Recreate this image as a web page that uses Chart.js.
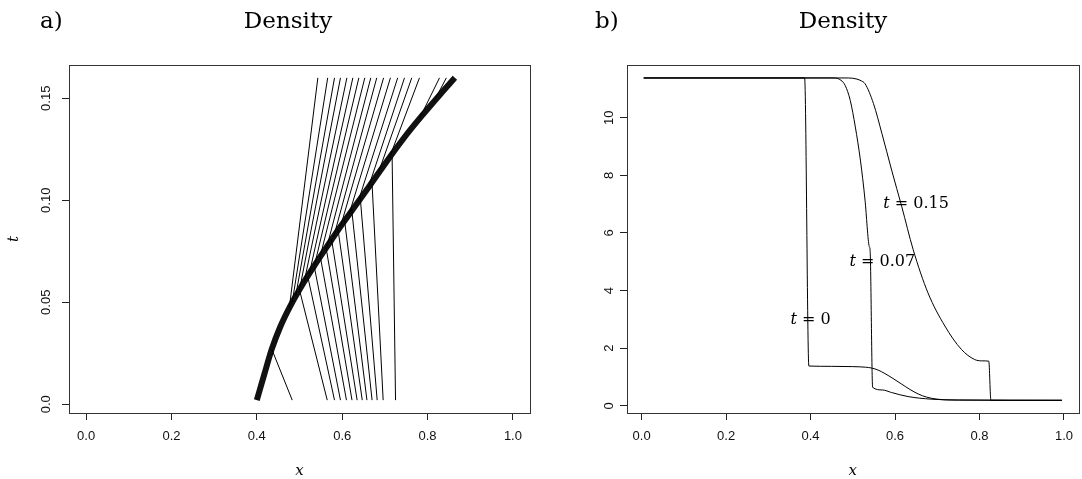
<!DOCTYPE html>
<html>
<head>
<meta charset="utf-8">
<script src="https://cdn.jsdelivr.net/npm/chart.js@4.4.0/dist/chart.umd.min.js"></script>
<style>
  html, body { margin: 0; padding: 0; background: #fff; }
  #wrap { position: relative; width: 1082px; height: 479px; overflow: hidden; }
  canvas { position: absolute; top: 0; }
  #left { left: 0; }
  #right { left: 541px; }
</style>
</head>
<body>
<div id="wrap">
  <canvas id="left" width="541" height="479"></canvas>
  <canvas id="right" width="541" height="479"></canvas>
</div>
<script>
// tick values and labels
const xTicks = [0, 0.2, 0.4, 0.6, 0.8, 1.0];
const xTickLabels = ['0.0', '0.2', '0.4', '0.6', '0.8', '1.0'];
const tTicks = [0, 0.05, 0.10, 0.15];
const tTickLabels = ['0.0', '0.05', '0.10', '0.15'];
const rhoTicks = [0, 2, 4, 6, 8, 10];
const rhoTickLabels = ['0', '2', '4', '6', '8', '10'];

// panel a) shock path
const shockX = [0.400, 0.418, 0.435, 0.455, 0.478, 0.505, 0.532, 0.562, 0.594, 0.630, 0.664, 0.711, 0.750, 0.789, 0.830, 0.864];
const shockT = [0.002, 0.015, 0.027, 0.038, 0.048, 0.058, 0.067, 0.0765, 0.0865, 0.097, 0.107, 0.121, 0.132, 0.142, 0.152, 0.160];

// characteristics running from t0 into the shock (right side)
const t0 = 0.002;
const lowerStartX = [0.483, 0.565, 0.582, 0.596, 0.610, 0.623, 0.635, 0.647, 0.658, 0.670, 0.682, 0.696, 0.725];
const lowerEndX = [0.435, 0.500, 0.520, 0.535, 0.549, 0.562, 0.575, 0.590, 0.605, 0.622, 0.642, 0.670, 0.717];
const lowerEndT = [0.027, 0.056, 0.062, 0.067, 0.072, 0.077, 0.081, 0.086, 0.091, 0.096, 0.102, 0.108, 0.121];

// characteristics leaving the shock up to tEnd (left side)
const tEnd = 0.160;
const upperStartX = [0.476, 0.483, 0.491, 0.500, 0.511, 0.523, 0.535, 0.548, 0.564, 0.580, 0.596, 0.616, 0.637, 0.661, 0.684, 0.711, 0.781, 0.814];
const upperStartT = [0.047, 0.050, 0.053, 0.056, 0.060, 0.064, 0.068, 0.072, 0.077, 0.082, 0.087, 0.093, 0.099, 0.106, 0.113, 0.121, 0.140, 0.148];
const upperEndX = [0.543, 0.566, 0.582, 0.596, 0.611, 0.625, 0.639, 0.653, 0.667, 0.681, 0.697, 0.713, 0.730, 0.746, 0.763, 0.781, 0.828, 0.844];

// panel b) density profiles
const rho0X = [0.005, 0.386, 0.396, 0.450, 0.500, 0.530, 0.545, 0.560, 0.576, 0.595, 0.616, 0.635, 0.655, 0.675, 0.700, 0.750, 0.995];
const rho0Y = [11.38, 11.38, 1.38, 1.37, 1.36, 1.34, 1.31, 1.24, 1.12, 0.95, 0.75, 0.57, 0.41, 0.30, 0.23, 0.20, 0.19];
const rho07X = [0.005, 0.455, 0.472, 0.482, 0.494, 0.506, 0.518, 0.529, 0.539, 0.541, 0.547, 0.570, 0.592, 0.631, 0.686, 0.750, 0.995];
const rho07Y = [11.38, 11.38, 11.30, 11.12, 10.60, 9.68, 8.53, 7.14, 5.53, 5.40, 0.64, 0.55, 0.46, 0.32, 0.23, 0.20, 0.19];
const rho15X = [0.005, 0.490, 0.510, 0.520, 0.529, 0.549, 0.569, 0.592, 0.616, 0.643, 0.678, 0.718, 0.757, 0.788, 0.805, 0.822, 0.827, 0.995];
const rho15Y = [11.38, 11.38, 11.34, 11.28, 11.18, 10.49, 9.45, 8.18, 6.91, 5.42, 3.92, 2.77, 1.96, 1.61, 1.56, 1.55, 0.19, 0.19];

const curveLabels = ['0', '0.07', '0.15'];
const curveLabelX = [0.40, 0.57, 0.65];
const curveLabelY = [3, 5, 7];

const pts = (xs, ys) => xs.map((x, i) => ({ x: x, y: ys[i] }));

function axis(min, max, vals, labels, vertical, size) {
  return {
    type: 'linear',
    min: min,
    max: max,
    afterBuildTicks: s => { s.ticks = vals.map(v => ({ value: v })); },
    afterFit: s => { if (vertical) s.width = size; else s.height = size; },
    grid: { drawOnChartArea: false, drawTicks: true, tickLength: 7, tickColor: '#222', tickWidth: 1 },
    border: { display: false },
    ticks: {
      callback: (v, i) => labels[i],
      color: '#111',
      font: { family: 'Liberation Sans', size: 13 },
      padding: vertical ? 3 : 9,
      autoSkip: false,
      minRotation: vertical ? 90 : 0,
      maxRotation: vertical ? 90 : 0,
      crossAlign: vertical ? 'center' : 'near'
    }
  };
}

function framePlugin(tag, tagX, titleX, yTitle) {
  return {
    id: 'frame',
    afterDraw(chart) {
      const ctx = chart.ctx;
      const a = chart.chartArea;
      ctx.save();
      ctx.strokeStyle = '#333';
      ctx.lineWidth = 1;
      ctx.strokeRect(Math.round(a.left) + 0.5, Math.round(a.top) + 0.5,
        Math.round(a.right - a.left), Math.round(a.bottom - a.top));
      ctx.fillStyle = '#000';
      ctx.textBaseline = 'alphabetic';
      ctx.font = '23px "DejaVu Serif"';
      ctx.textAlign = 'left';
      ctx.fillText(tag, tagX, 28);
      ctx.textAlign = 'center';
      ctx.fillText('Density', titleX, 28);
      ctx.font = 'italic 15px "DejaVu Serif"';
      ctx.textBaseline = 'middle';
      ctx.fillText('x', (a.left + a.right) / 2, 471);
      if (yTitle) {
        ctx.translate(14, (a.top + a.bottom) / 2);
        ctx.rotate(-Math.PI / 2);
        ctx.fillText(yTitle, 0, 0);
      }
      ctx.restore();
    }
  };
}

// panel a
const leftSets = [];
lowerStartX.forEach((x, i) => {
  leftSets.push({ data: pts([x, lowerEndX[i]], [t0, lowerEndT[i]]) });
});
upperStartX.forEach((x, i) => {
  leftSets.push({ data: pts([x, upperEndX[i]], [upperStartT[i], tEnd]) });
});
leftSets.forEach(d => { d.borderColor = '#000'; d.borderWidth = 1; });
leftSets.push({
  data: pts(shockX, shockT),
  borderColor: '#111',
  borderWidth: 6,
  cubicInterpolationMode: 'monotone'
});
leftSets.forEach(d => { d.showLine = true; d.pointRadius = 0; });

new Chart(document.getElementById('left'), {
  type: 'scatter',
  data: { datasets: leftSets },
  options: {
    responsive: false,
    animation: false,
    devicePixelRatio: 1,
    layout: { padding: { top: 65, right: 11, left: 0, bottom: 0 } },
    plugins: { legend: { display: false }, tooltip: { enabled: false } },
    scales: {
      x: axis(-0.04, 1.04, xTicks, xTickLabels, false, 66),
      y: axis(-0.0043, 0.1663, tTicks, tTickLabels, true, 69)
    }
  },
  plugins: [framePlugin('a)', 40, 288, 't')]
});

// panel b
const labelPlugin = {
  id: 'curveLabels',
  afterDatasetsDraw(chart) {
    const ctx = chart.ctx;
    const sx = chart.scales.x, sy = chart.scales.y;
    ctx.save();
    ctx.fillStyle = '#000';
    ctx.textBaseline = 'middle';
    ctx.textAlign = 'left';
    curveLabels.forEach((lab, i) => {
      const px = sx.getPixelForValue(curveLabelX[i]);
      const py = sy.getPixelForValue(curveLabelY[i]);
      const rest = ' = ' + lab;
      ctx.font = 'italic 16px "DejaVu Serif"';
      const w1 = ctx.measureText('t').width;
      ctx.font = '16px "DejaVu Serif"';
      const w2 = ctx.measureText(rest).width;
      const start = px - (w1 + w2) / 2;
      ctx.font = 'italic 16px "DejaVu Serif"';
      ctx.fillText('t', start, py);
      ctx.font = '16px "DejaVu Serif"';
      ctx.fillText(rest, start + w1, py);
    });
    ctx.restore();
  }
};

const rightSets = [pts(rho0X, rho0Y), pts(rho07X, rho07Y), pts(rho15X, rho15Y)].map(d => ({
  data: d,
  showLine: true,
  pointRadius: 0,
  borderColor: '#000',
  borderWidth: 1,
  cubicInterpolationMode: 'monotone'
}));

new Chart(document.getElementById('right'), {
  type: 'scatter',
  data: { datasets: rightSets },
  options: {
    responsive: false,
    animation: false,
    devicePixelRatio: 1,
    layout: { padding: { top: 65, right: 0, left: 0, bottom: 0 } },
    plugins: { legend: { display: false }, tooltip: { enabled: false } },
    scales: {
      x: axis(-0.0346, 1.0346, xTicks, xTickLabels, false, 66),
      y: axis(-0.25, 11.83, rhoTicks, rhoTickLabels, true, 86)
    }
  },
  plugins: [framePlugin('b)', 54, 302, null), labelPlugin]
});
</script>
</body>
</html>
